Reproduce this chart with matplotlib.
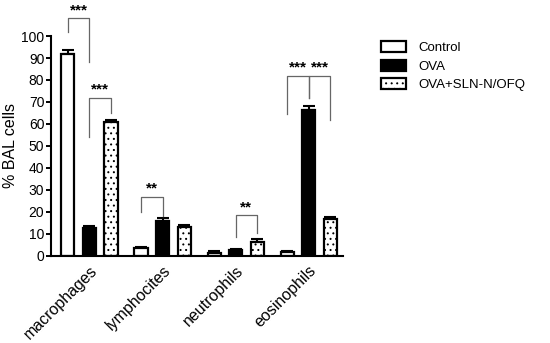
import numpy as np
import matplotlib.pyplot as plt

plt.rcParams['font.family'] = ['Liberation Sans', 'DejaVu Sans']
plt.rcParams['hatch.color'] = '#8a8a8a'
plt.rcParams['hatch.linewidth'] = 0.7

cells = ['macrophages', 'lymphocites', 'neutrophils', 'eosinophils']
groups = ['Control', 'OVA', 'OVA+SLN-N/OFQ']
control = [92, 3.5, 1.5, 1.8]
control_err = [1.5, 0.7, 0.5, 0.5]
ova = [12.5, 16, 2.5, 66.5]
ova_err = [1.0, 1.3, 0.6, 1.5]
sln = [61, 13, 6.5, 17]
sln_err = [1.0, 1.0, 1.0, 0.7]

# (cell index, bar a, bar b, top, left leg end, right leg end, label)
brackets = [
    (0, 0, 1, 108, 102, 88, '***'),
    (0, 1, 2, 72, 54, 65, '***'),
    (1, 0, 1, 27, 20, 18, '**'),
    (2, 1, 2, 18.5, 8.5, 10.5, '**'),
    (3, 0, 1, 82, 64.5, 72, '***'),
    (3, 1, 2, 82, 72, 62, '***'),
]

fig = plt.figure(figsize=(5.5, 3.43), dpi=100)
ax = fig.add_axes([0.092, 0.254, 0.532, 0.641])

x = np.arange(len(cells))
off = 0.295
w = 0.18
fills = ['white', 'black', 'white']
hatches = [None, None, '...']
vals = [control, ova, sln]
errs = [control_err, ova_err, sln_err]
for i in range(3):
    pos = x + (i - 1) * off
    ax.bar(pos, vals[i], w, color=fills[i], edgecolor='black',
           linewidth=1.6, hatch=hatches[i], label=groups[i], zorder=2)
    ax.errorbar(pos, vals[i], yerr=[np.zeros(4), errs[i]], fmt='none',
                ecolor='black', elinewidth=1.5, capsize=4, capthick=1.5, zorder=1)

for ci, a, b, top, la, rb, lab in brackets:
    xa = ci + (a - 1) * off
    xb = ci + (b - 1) * off
    ax.plot([xa, xa, xb, xb], [la, top, top, rb], color='#666666', lw=0.9,
            clip_on=False)
    ax.text((xa + xb) / 2, top + 0.5, lab, ha='center', va='bottom',
            fontsize=11, fontweight='bold', clip_on=False)

ax.set_xlim(-0.53, 3.47)
ax.set_ylim(0, 100)
ax.set_yticks(range(0, 101, 10))
ax.set_xticks(x)
ax.set_xticklabels(cells, rotation=45, ha='right', rotation_mode='anchor', fontsize=11.5)
ax.tick_params(axis='x', length=0, pad=5)
ax.tick_params(axis='y', labelsize=10, width=1.4, length=3.5, pad=1)
ax.set_ylabel('% BAL cells', fontsize=11.5, labelpad=2)
for s in ['top', 'right']:
    ax.spines[s].set_visible(False)
for s in ['left', 'bottom']:
    ax.spines[s].set_linewidth(1.5)

ax.legend(loc='upper left', bbox_to_anchor=(1.09, 1.03), frameon=False,
          fontsize=9.5, handlelength=1.9, handleheight=0.9, labelspacing=0.4,
          handletextpad=0.9)

plt.savefig('out.png', dpi=100)
